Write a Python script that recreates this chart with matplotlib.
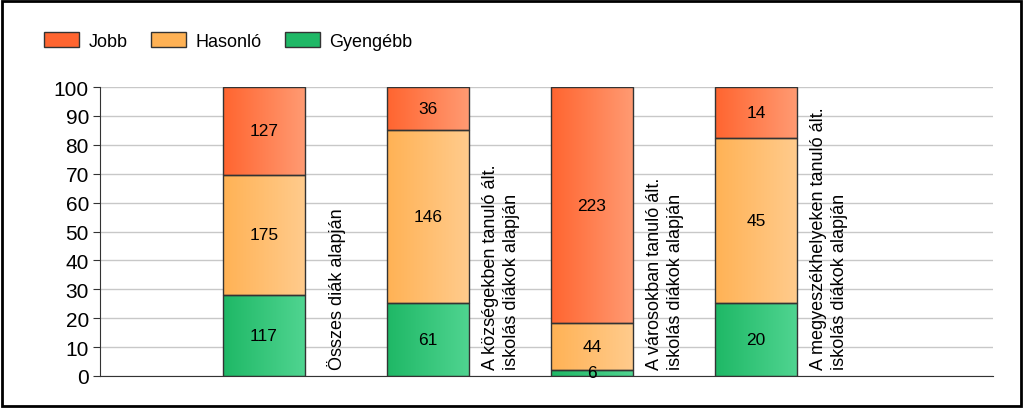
import numpy as np
import matplotlib
matplotlib.use("Agg")
import matplotlib.pyplot as plt
from matplotlib.colors import LinearSegmentedColormap
from matplotlib.patches import Rectangle

plt.rcParams['font.family'] = ['Liberation Sans', 'DejaVu Sans']

# ---- data ----
categories = ["Összes diák alapján",
              "A községekben tanuló ált.\niskolás diákok alapján",
              "A városokban tanuló ált.\niskolás diákok alapján",
              "A megyeszékhelyeken tanuló ált.\niskolás diákok alapján"]
series_names = ["Gyengébb", "Hasonló", "Jobb"]
gyengebb = [117, 61, 6, 20]
hasonlo = [175, 146, 44, 45]
jobb = [127, 36, 223, 14]

# left / right colours of the horizontal gradient
grad_colors = {"Jobb": ("#ff6530", "#ff9a72"),
               "Hasonló": ("#ffb255", "#ffcb8c"),
               "Gyengébb": ("#1fb866", "#4fd490")}

counts = np.array([gyengebb, hasonlo, jobb], dtype=float)
perc = counts / counts.sum(axis=0) * 100
x = np.arange(1, len(categories) + 1)

fig = plt.figure(figsize=(10.24, 4.10), dpi=100)
ax = fig.add_axes([100 / 1024, 33 / 410, 893 / 1024, 289 / 410])

bottom = np.zeros(len(categories))
for name, vals, cnts in zip(series_names, perc, counts):
    bars = ax.bar(x, vals, bottom=bottom, width=0.5, facecolor="none",
                  edgecolor="#333333", linewidth=1, zorder=3)
    c0, c1 = grad_colors[name]
    cmap = LinearSegmentedColormap.from_list(name, [c0, c1])
    for patch, c, v, b in zip(bars, cnts, vals, bottom):
        x0, y0 = patch.get_x(), patch.get_y()
        w, h = patch.get_width(), patch.get_height()
        im = ax.imshow(np.linspace(0, 1, 64).reshape(1, -1), cmap=cmap,
                       extent=(x0, x0 + w, y0, y0 + h), aspect="auto",
                       origin="lower", zorder=2)
        im.set_clip_path(patch)
        ax.text(x0 + w / 2, b + v / 2, f"{int(c)}", ha="center",
                va="center", fontsize=12.5, zorder=4)
    bottom += vals

# rotated category labels next to each bar
for xi, lab in zip(x, categories):
    ax.text(xi + 0.445, 2.4, lab, rotation=90, ha="center", va="bottom",
            multialignment="left", fontsize=13, linespacing=1.35, zorder=4)

ax.set_xlim(0, 893 / 164)
ax.set_ylim(0, 100)
ax.set_yticks(range(0, 101, 10))
ax.set_xticks([])
ax.tick_params(axis="y", labelsize=15, length=5, color="#333333", pad=3)
ax.grid(axis="y", color="#c8c8c8", linewidth=1, zorder=0)
ax.set_axisbelow(True)
for side in ["top", "right"]:
    ax.spines[side].set_visible(False)
for side in ["left", "bottom"]:
    ax.spines[side].set_color("#333333")

# legend (Jobb, Hasonló, Gyengébb)
handles = [Rectangle((0, 0), 1, 1, facecolor=grad_colors[n][0],
                     edgecolor="#333333", linewidth=1)
           for n in ["Jobb", "Hasonló", "Gyengébb"]]
fig.legend(handles, ["Jobb", "Hasonló", "Gyengébb"], loc="center left",
           bbox_to_anchor=(28 / 1024, 1 - 42 / 410), ncol=3, frameon=False,
           fontsize=13, handlelength=1.95, handleheight=0.9,
           handletextpad=0.5, columnspacing=1.3)

# outer border
fig.add_artist(Rectangle((1.5 / 1024, 3 / 410), 1019.5 / 1024, 405.5 / 410,
                         transform=fig.transFigure, fill=False,
                         edgecolor="black", linewidth=2))

fig.savefig("out.png", dpi=100)
